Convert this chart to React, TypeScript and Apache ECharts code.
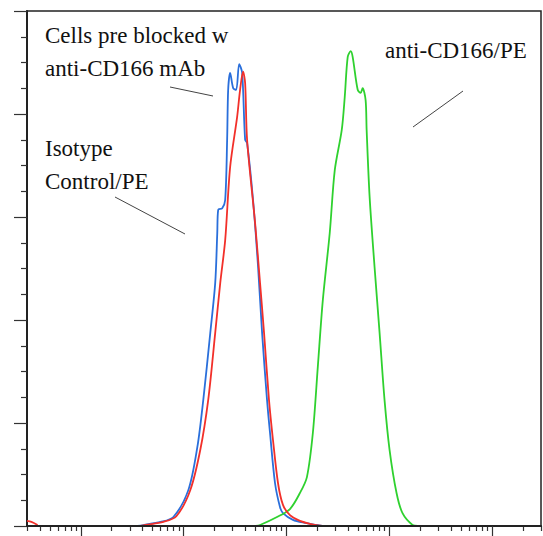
import React, { useEffect, useRef } from "react";
import * as echarts from "echarts";

// x values are log10(fluorescence intensity); y values are relative counts (% of max scale)
const isotypeRedLowTail: [number, number][] = [
  [0.477, 1.0], [0.52, 0.8], [0.58, 0.2],
];

const isotypeRed: [number, number][] = [
  [1.58, 0], [1.63, 0.2], [1.804, 0.8], [1.93, 1.9], [2.066, 7.0],
  [2.163, 14.8], [2.24, 24.5], [2.308, 37.5], [2.357, 47.2], [2.405, 55.5], [2.453, 69.7],
  [2.521, 79.4], [2.55, 84.7], [2.579, 88.2], [2.599, 86.0], [2.618, 75.0], [2.696, 58.8],
  [2.744, 47.2], [2.783, 37.5], [2.831, 24.5], [2.87, 16.7], [2.919, 8.3], [2.967, 4.1],
  [3.035, 2.1], [3.132, 1.0], [3.277, 0.2], [3.35, 0],
];

const blockedBlue: [number, number][] = [
  [1.55, 0], [1.61, 0.19], [1.775, 0.78], [1.901, 1.75], [2.047, 7.0], [2.134, 15.3],
  [2.192, 24.5], [2.26, 37.5], [2.308, 47.2], [2.328, 56.9], [2.337, 61.4], [2.376, 61.7],
  [2.405, 63.3], [2.424, 75.0], [2.434, 84.7], [2.453, 88.0], [2.483, 85.0], [2.512, 84.7],
  [2.541, 89.7], [2.57, 88.0], [2.599, 75.0], [2.618, 74.4], [2.676, 63.3], [2.725, 50.3],
  [2.764, 37.5], [2.812, 24.5], [2.841, 18.1], [2.89, 8.3], [2.938, 3.7], [2.967, 2.5],
  [3.064, 1.2], [3.18, 0.6], [3.297, 0.2], [3.35, 0],
];

const antiCD166Green: [number, number][] = [
  [2.7, 0], [2.744, 0.2], [2.909, 1.75], [3.035, 3.3], [3.132, 6.4], [3.2, 9.5], [3.258, 18.1],
  [3.306, 30.9], [3.355, 43.9], [3.422, 56.9], [3.471, 69.1], [3.539, 76.9], [3.568, 83.3],
  [3.597, 91.1], [3.626, 92.2], [3.645, 91.1], [3.694, 84.7], [3.723, 84.1], [3.742, 85.0],
  [3.771, 82.7], [3.781, 76.9], [3.81, 63.9], [3.858, 50.3], [3.907, 37.5], [3.955, 24.5],
  [4.004, 14.8], [4.072, 6.4], [4.13, 2.5], [4.227, 0.2], [4.28, 0],
];

const decades = [1, 2, 3, 4, 5];
const minorMultipliers = [2, 3, 4, 5, 6, 7, 8, 9];
const xMin = Math.log10(3);
const xMax = Math.log10(300000);

const minorTickValues: number[] = [];
for (let d = 0; d <= 5; d++) {
  for (const m of minorMultipliers) {
    const v = d + Math.log10(m);
    if (v >= xMin - 1e-9 && v <= xMax + 1e-9) minorTickValues.push(v);
  }
}

const annotations = [
  { text: "Cells pre blocked w", x: 45, y: 35 },
  { text: "anti-CD166 mAb", x: 45, y: 68 },
  { text: "Isotype", x: 45, y: 148 },
  { text: "Control/PE", x: 45, y: 181 },
  { text: "anti-CD166/PE", x: 385, y: 50 },
];

const pointerLines = [
  [170, 87, 213, 96],
  [115, 197, 185, 234],
  [413, 127, 463, 91],
];

export default function App() {
  const ref = useRef<HTMLDivElement>(null);
  useEffect(() => {
    if (!ref.current) return;
    const chart = echarts.init(ref.current, null, { renderer: "svg" });
    const axisColor = "#222";
    const curve = (name: string, data: [number, number][], color: string, z: number) => ({
      name,
      type: "line",
      data,
      showSymbol: false,
      smooth: 0.3,
      lineStyle: { color, width: 1.8 },
      z,
    });
    chart.setOption({
      animation: false,
      backgroundColor: "#fff",
      grid: {
        left: 27,
        right: 2,
        top: 11,
        bottom: 10,
        show: true,
        borderColor: axisColor,
        borderWidth: 1.5,
        backgroundColor: "#fff",
      },
      xAxis: [
        {
          type: "value",
          min: xMin,
          max: xMax,
          position: "bottom",
          axisLine: { show: true, lineStyle: { color: axisColor, width: 2 } },
          axisTick: {
            show: true,
            length: 10,
            customValues: decades,
            lineStyle: { color: "#333", width: 1.2 },
          },
          axisLabel: { show: false },
          splitLine: { show: false },
          z: 5,
        },
        {
          type: "value",
          min: xMin,
          max: xMax,
          position: "bottom",
          axisLine: { show: false },
          axisTick: {
            show: true,
            length: 5,
            customValues: minorTickValues,
            lineStyle: { color: "#333", width: 1.2 },
          },
          axisLabel: { show: false },
          splitLine: { show: false },
        },
      ],
      yAxis: {
        type: "value",
        min: 0,
        max: 100,
        interval: 20,
        axisLine: { show: true, lineStyle: { color: axisColor, width: 2 } },
        axisTick: { show: true, length: 13, lineStyle: { color: "#333", width: 1.2 } },
        minorTick: { show: true, splitNumber: 4, length: 6, lineStyle: { color: "#333", width: 1.2 } },
        axisLabel: { show: false },
        splitLine: { show: false },
        minorSplitLine: { show: false },
      },
      series: [
        curve("Isotype Control/PE (low tail)", isotypeRedLowTail, "#f2302a", 3),
        curve("Isotype Control/PE", isotypeRed, "#f2302a", 3),
        curve("Cells pre blocked w anti-CD166 mAb", blockedBlue, "#2a6fdb", 2),
        curve("anti-CD166/PE", antiCD166Green, "#2fd12f", 2),
      ],
      graphic: [
        ...annotations.map((a) => ({
          type: "text",
          x: a.x,
          y: a.y,
          style: {
            text: a.text,
            fill: "#111",
            font: '23px "Liberation Serif", "DejaVu Serif", serif',
            verticalAlign: "middle",
          },
          z: 10,
        })),
        ...pointerLines.map((l) => ({
          type: "line",
          shape: { x1: l[0], y1: l[1], x2: l[2], y2: l[3] },
          style: { stroke: "#444", lineWidth: 1 },
          z: 10,
        })),
      ],
    });
    return () => chart.dispose();
  }, []);
  return (
    <div
      ref={ref}
      style={{ position: "fixed", left: 0, top: 0, width: 543, height: 536 }}
    />
  );
}
